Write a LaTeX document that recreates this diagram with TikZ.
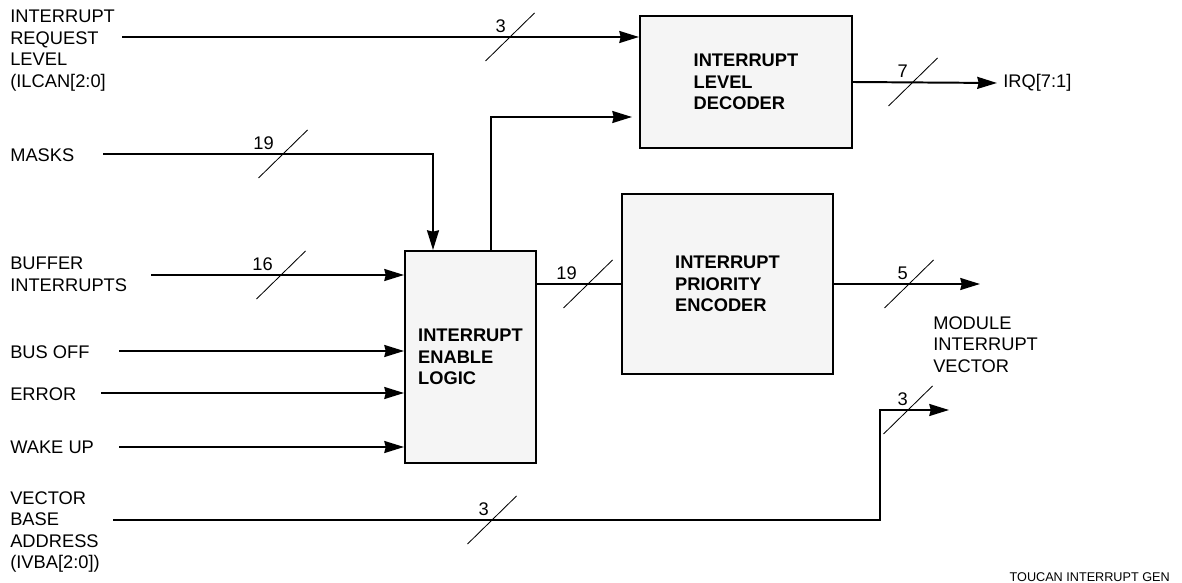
\documentclass[tikz,border=0pt]{standalone}
\usepackage{fontspec}
\setmainfont{Liberation Sans}
\usetikzlibrary{arrows.meta,calc}
\definecolor{blocfill}{HTML}{F5F5F5}
\tikzset{
  bloc/.style={rectangle, draw=black, line width=1.4pt, fill=blocfill, align=left,
               font=\fontsize{13}{15.3}\selectfont\bfseries},
  sig/.style={anchor=north west, align=left, inner sep=0pt,
              font=\fontsize{13}{15.3}\selectfont},
  arr/.style={-{Stealth[inset=1pt,length=14pt,width=8.5pt]}, line width=1.4pt},
  ligne/.style={line width=1.4pt},
  barre/.style={line width=0.6pt},
  nbre/.style={anchor=south east, inner sep=0pt, font=\fontsize{13}{15.3}\selectfont},
}

\begin{document}
\begin{tikzpicture}[x=0.025cm, y=-0.025cm]
    \useasboundingbox (0,0) rectangle (1182,583);
    % blocs
    \node[bloc, minimum width=5.3cm, minimum height=3.3cm] (decod) at (746,82)
      {INTERRUPT\\LEVEL\\DECODER};
    \node[bloc, minimum width=3.275cm, minimum height=5.3cm] (enable) at (470.5,357)
      {INTERRUPT\\ENABLE\\LOGIC};
    \node[bloc, minimum width=5.275cm, minimum height=4.5cm] (prio) at (727.5,284)
      {INTERRUPT\\PRIORITY\\ENCODER};
    % signaux
    \node[sig] (ilcan) at (10,10) {INTERRUPT\\REQUEST\\LEVEL\\(ILCAN[2:0]};
    \node[sig] (masks) at (10,148) {MASKS};
    \node[sig] (buffer) at (10,257) {BUFFER\\INTERRUPTS};
    \node[sig] (busoff) at (10,345) {BUS OFF};
    \node[sig] (error) at (10,387) {ERROR};
    \node[sig] (wakeup) at (10,441) {WAKE UP};
    \node[sig] (ivba) at (10,491) {VECTOR\\BASE\\ADDRESS\\(IVBA[2:0])};
    \node[sig] (miv) at (933,316) {MODULE\\INTERRUPT\\VECTOR};
    \node[sig, anchor=west] (irq) at (1003,83) {IRQ[7:1]};
    \node[sig, anchor=east, font=\fontsize{9}{11}\selectfont] (fig) at (1170,577)
      {TOUCAN INTERRUPT GEN};
    % extrémités libres
    \coordinate (in1) at (122,37);
    \coordinate (in2) at (103,154);
    \coordinate (in3) at (151,275);
    \coordinate (in4) at (119,351);
    \coordinate (in5) at (101,393);
    \coordinate (in6) at (119,447);
    \coordinate (in7) at (113,520);
    \coordinate (out1) at (980,284);
    \coordinate (out2) at (949,410);
    % liaisons
    \draw[arr] (in1) -- (in1 -| decod.west);
    \draw[arr] ($(enable.north)+(20.5,0)$) |- ($(decod.west)+(-7,35)$);
    \draw[arr] (in2) -| ($(enable.north)+(-37.5,0)$);
    \draw[arr] (in3) -- (in3 -| enable.west);
    \draw[arr] (in4) -- (in4 -| enable.west);
    \draw[arr] (in5) -- (in5 -| enable.west);
    \draw[arr] (in6) -- (in6 -| enable.west);
    \draw[ligne] (enable.east |- prio.west) -- (prio.west);
    \draw[arr] (prio.east) -- (out1);
    \draw[arr] (decod.east) -- ([xshift=-4.3pt]irq.west);
    \draw[arr] (in7) -| ($(out2)+(-69,0)$) -- (out2);
    % largeurs de bus
    \foreach \cx/\cy/\w/\dx [count=\i] in {510/37/3/-4, 283/154/19/-9, 281/275/16/-8,
        588/284/19/-11, 913/82/7/-5, 909/284/5/-1, 492/520/3/-3, 908/410/3/0}{
      \draw[barre] (\cx-24.5,\cy+24) -- (\cx+24.5,\cy-24);
      \node[nbre] (nb\i) at (\cx+\dx,\cy-4) {\w};
    }
\end{tikzpicture}
\end{document}
